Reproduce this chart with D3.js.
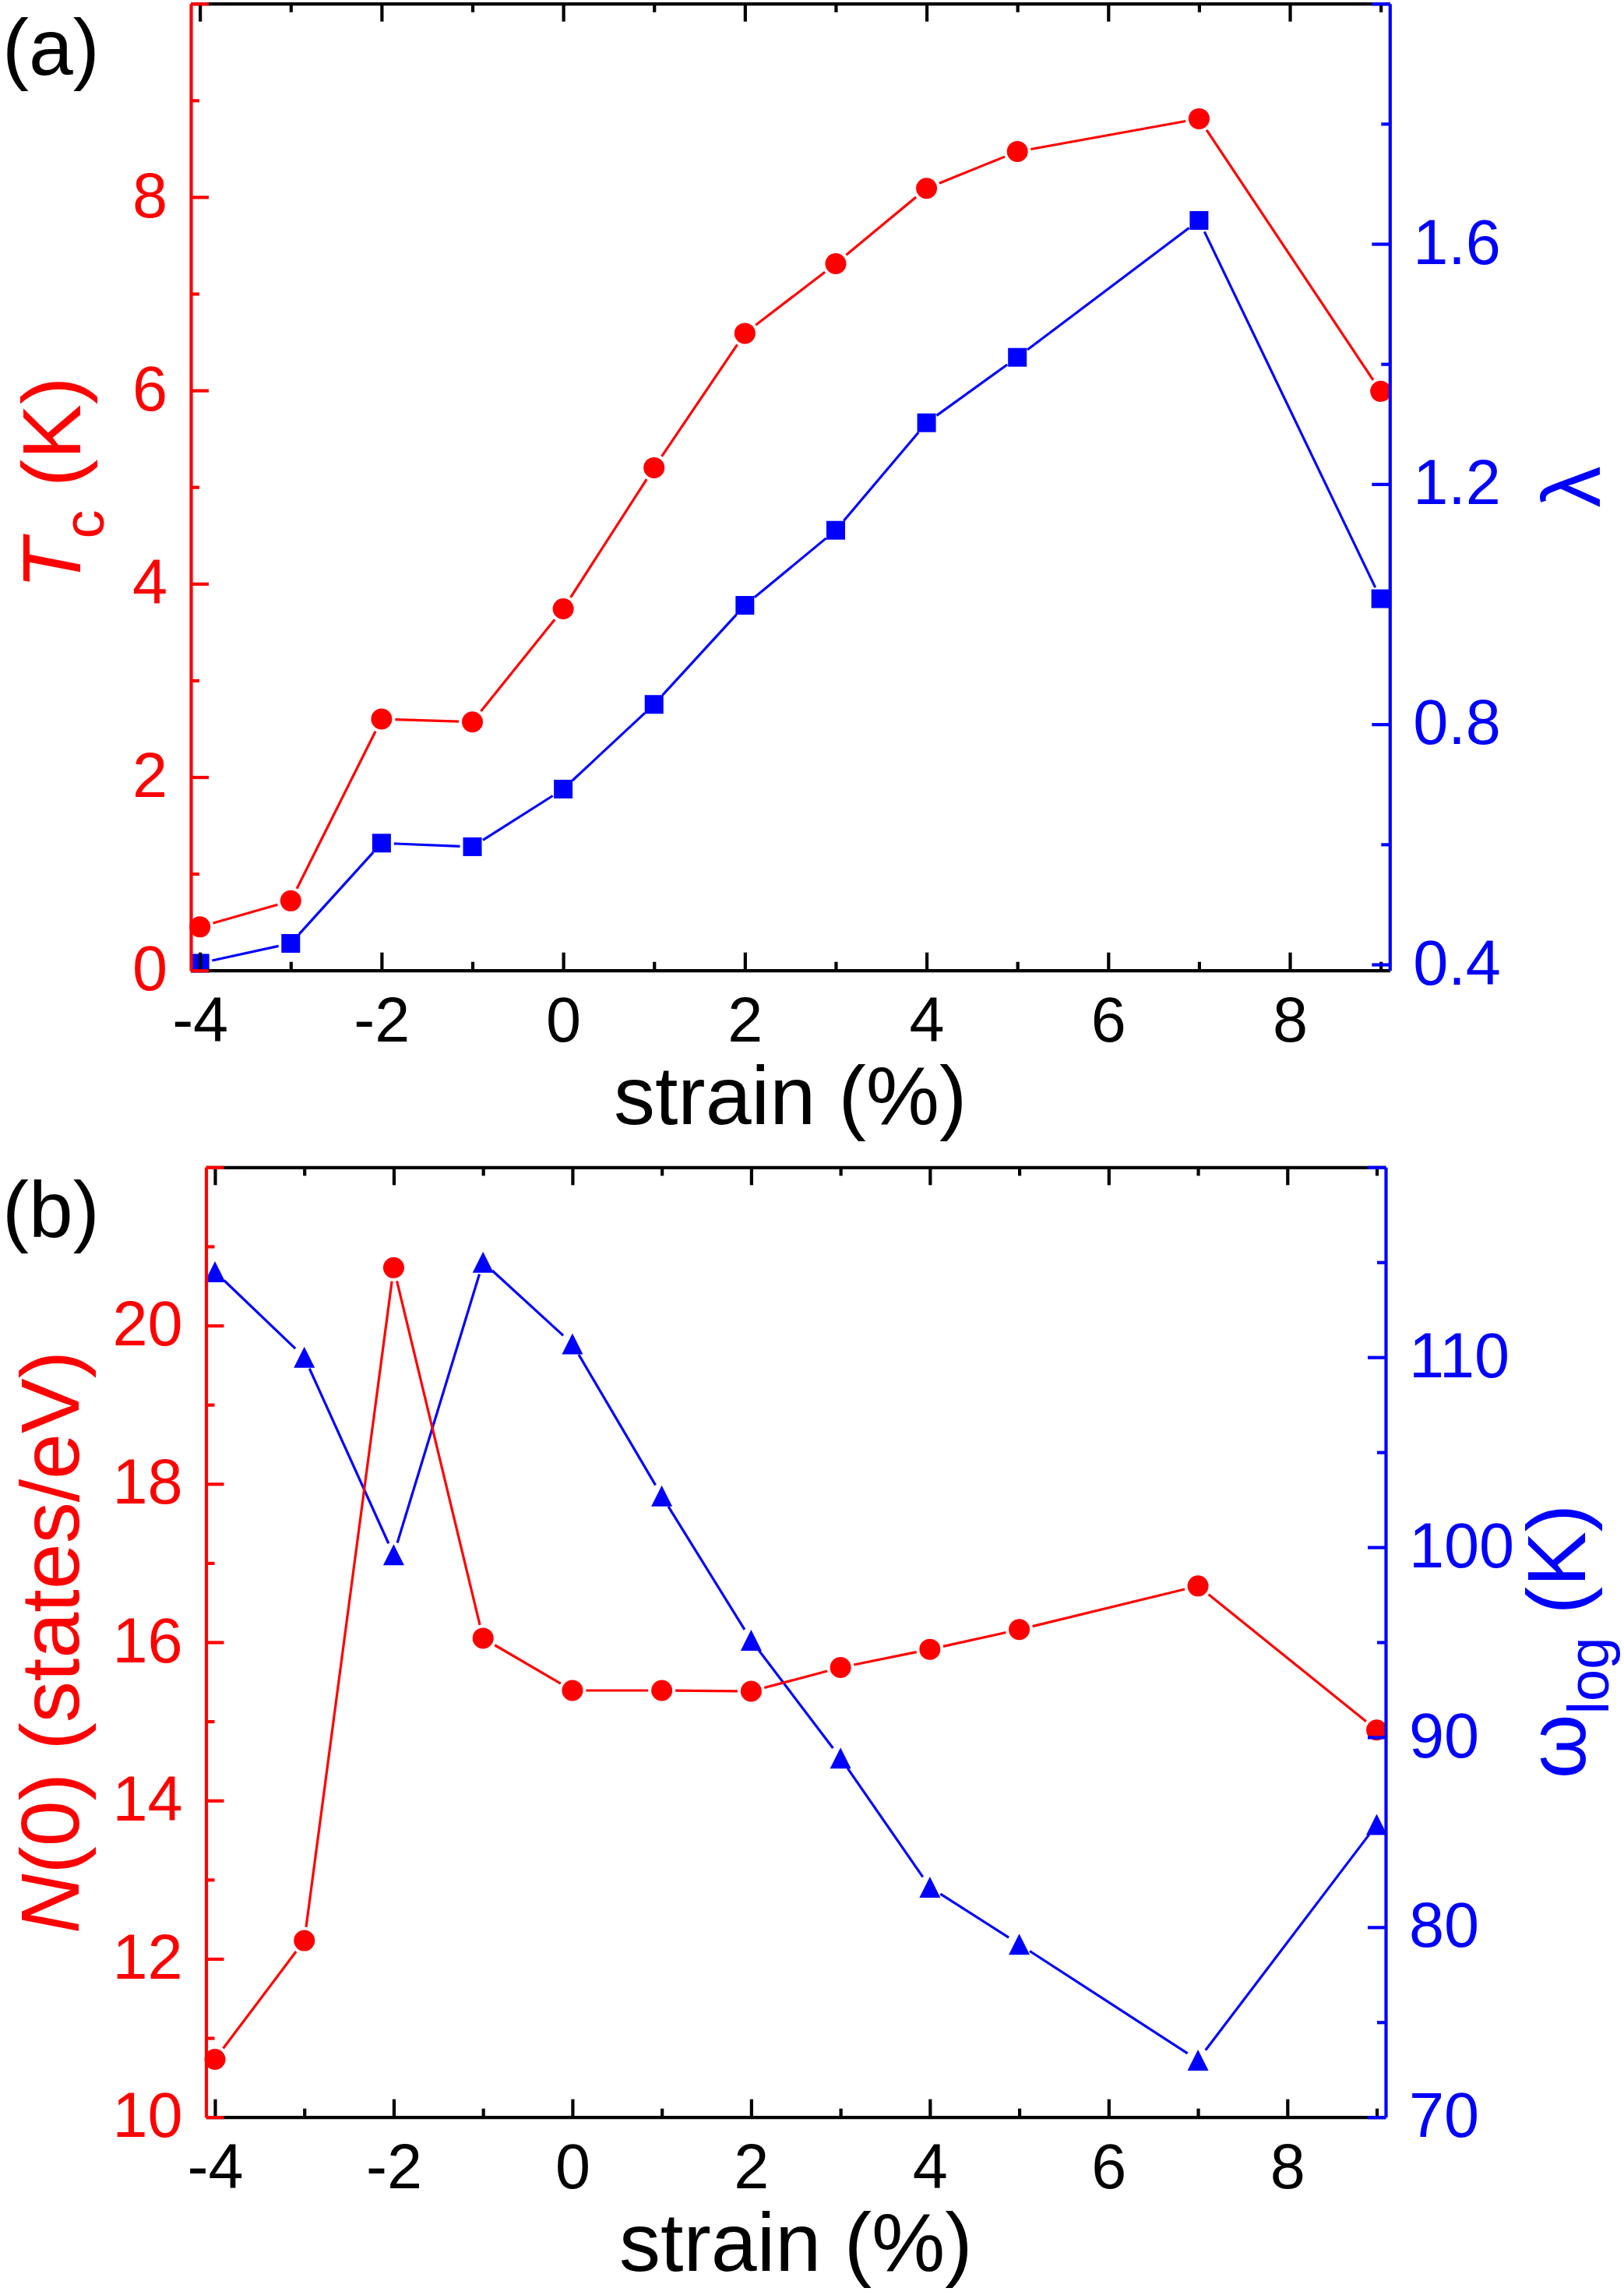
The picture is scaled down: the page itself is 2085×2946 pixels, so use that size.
<!DOCTYPE html>
<html>
<head>
<meta charset="utf-8">
<script src="https://cdn.jsdelivr.net/npm/d3@7"></script>
<style>
  html, body { margin: 0; padding: 0; background: #fff; }
  svg { display: block; }
  text { font-family: "Liberation Sans", Arial, sans-serif; }
</style>
</head>
<body>
<script>
// ---------- data ----------
const strain = [-4, -3, -2, -1, 0, 1, 2, 3, 4, 5, 7, 9];
const Tc     = [0.45, 0.72, 2.60, 2.57, 3.74, 5.20, 6.59, 7.31, 8.09, 8.47, 8.81, 5.99];
const lambda = [0.402, 0.435, 0.602, 0.596, 0.692, 0.833, 0.998, 1.123, 1.302, 1.411, 1.639, 1.009];
const N0     = [10.73, 12.23, 20.73, 16.05, 15.39, 15.39, 15.38, 15.68, 15.91, 16.16, 16.71, 14.89];
const wlog   = [114.5, 110.0, 99.6, 115.0, 110.7, 102.7, 95.1, 88.9, 82.1, 79.1, 73.0, 85.4];

const xTicksMajor = [-4, -2, 0, 2, 4, 6, 8];
const xTicksMinor = [-3, -1, 1, 3, 5, 7, 9];
const tcTicksMajor = [0, 2, 4, 6, 8, 10];
const tcTicksMinor = [1, 3, 5, 7, 9];
const lamTicksMajor = [0.4, 0.8, 1.2, 1.6, 2.0];
const lamTicksMinor = [0.6, 1.0, 1.4, 1.8];
const nTicksMajor = [10, 12, 14, 16, 18, 20, 22];
const nTicksMinor = [11, 13, 15, 17, 19, 21];
const wTicksMajor = [70, 80, 90, 100, 110, 120];
const wTicksMinor = [75, 85, 95, 105, 115];

const RED = "#ff0000", BLUE = "#0000ff", BLACK = "#000000";
const W = 2085, H = 2946;
const TICK_FS = 81, TITLE_FS = 106;

const svg = d3.select("body").append("svg").attr("width", W).attr("height", H);

// ---------- scales ----------
const xA = d3.scaleLinear().domain([-4.1, 9.1]).range([245, 1784.3]);
const yTc = d3.scaleLinear().domain([0, 10]).range([1245.7, 4.7]);
const yLam = d3.scaleLinear().domain([0.39, 2.0]).range([1245.7, 4.7]);

const xB = d3.scaleLinear().domain([-4.1, 9.1]).range([264.5, 1779]);
const yN = d3.scaleLinear().domain([10, 22]).range([2717.7, 1498.3]);
const yW = d3.scaleLinear().domain([70, 120]).range([2717.7, 1498.3]);

// ---------- helpers ----------
function drawSeries(g, xs, ys, xScale, yScale, color, marker, gap) {
  const pts = xs.map((x, i) => [xScale(x), yScale(ys[i])]);
  const segs = d3.pairs(pts).map(([a, b]) => {
    const dx = b[0] - a[0], dy = b[1] - a[1];
    const L = Math.hypot(dx, dy);
    const ux = dx / L, uy = dy / L;
    return [a[0] + ux * gap, a[1] + uy * gap, b[0] - ux * gap, b[1] - uy * gap, L];
  }).filter(s => s[4] > 2 * gap);
  g.selectAll(null).data(segs).enter().append("line")
    .attr("x1", d => d[0]).attr("y1", d => d[1])
    .attr("x2", d => d[2]).attr("y2", d => d[3])
    .attr("stroke", color).attr("stroke-width", 3.2).attr("stroke-linecap", "butt");
  const sel = g.selectAll(null).data(pts).enter();
  if (marker === "circle") {
    sel.append("circle").attr("cx", d => d[0]).attr("cy", d => d[1]).attr("r", 13.5).attr("fill", color);
  } else if (marker === "square") {
    sel.append("rect").attr("x", d => d[0] - 12).attr("y", d => d[1] - 12)
      .attr("width", 24).attr("height", 24).attr("fill", color);
  } else {
    const tri = { draw(ctx) { ctx.moveTo(0, -13.5); ctx.lineTo(13.5, 13.5); ctx.lineTo(-13.5, 13.5); ctx.closePath(); } };
    sel.append("path").attr("d", d3.symbol().type(tri)())
      .attr("transform", d => `translate(${d[0]},${d[1]})`).attr("fill", color);
  }
}

function styleAxis(sel, color) {
  sel.select(".domain").attr("stroke", color).attr("stroke-width", 4.2);
  sel.selectAll(".tick line").attr("stroke", color).attr("stroke-width", 4.2);
  sel.selectAll(".tick text").attr("fill", color).attr("font-size", TICK_FS)
     .attr("font-family", '"Liberation Sans", Arial, sans-serif');
}

function drawAxes(xScale, yL, yR, yLMaj, yLMin, yRMaj, yRMin, colL, colR, hideL, hideR) {
  const [x0, x1] = xScale.range();
  const [yb, yt] = yL.range();
  const fmt = d => String(+d.toFixed(2));
  // bottom
  const gb = svg.append("g").attr("transform", `translate(0,${yb})`)
    .call(d3.axisBottom(xScale).tickValues(xTicksMajor).tickSizeInner(-23).tickSizeOuter(0)
      .tickPadding(33.5).tickFormat(d => String(d)));
  styleAxis(gb, BLACK);
  const gbm = svg.append("g").attr("transform", `translate(0,${yb})`)
    .call(d3.axisBottom(xScale).tickValues(xTicksMinor).tickSizeInner(-11).tickSizeOuter(0).tickFormat(""));
  styleAxis(gbm, BLACK); gbm.select(".domain").remove();
  // top
  const gt = svg.append("g").attr("transform", `translate(0,${yt})`)
    .call(d3.axisTop(xScale).tickValues(xTicksMajor).tickSizeInner(-23).tickSizeOuter(0).tickFormat(""));
  styleAxis(gt, BLACK);
  const gtm = svg.append("g").attr("transform", `translate(0,${yt})`)
    .call(d3.axisTop(xScale).tickValues(xTicksMinor).tickSizeInner(-11).tickSizeOuter(0).tickFormat(""));
  styleAxis(gtm, BLACK); gtm.select(".domain").remove();
  // left
  const gl = svg.append("g").attr("transform", `translate(${x0},0)`)
    .call(d3.axisLeft(yL).tickValues(yLMaj).tickSizeInner(-23).tickSizeOuter(0).tickPadding(30)
      .tickFormat(d => d === hideL ? "" : fmt(d)));
  styleAxis(gl, colL);
  const glm = svg.append("g").attr("transform", `translate(${x0},0)`)
    .call(d3.axisLeft(yL).tickValues(yLMin).tickSizeInner(-11).tickSizeOuter(0).tickFormat(""));
  styleAxis(glm, colL); glm.select(".domain").remove();
  // right
  const gr = svg.append("g").attr("transform", `translate(${x1},0)`)
    .call(d3.axisRight(yR).tickValues(yRMaj).tickSizeInner(-23).tickSizeOuter(0).tickPadding(30)
      .tickFormat(d => d === hideR ? "" : (yR === yLam ? d.toFixed(1) : String(d))));
  styleAxis(gr, colR);
  const grm = svg.append("g").attr("transform", `translate(${x1},0)`)
    .call(d3.axisRight(yR).tickValues(yRMin).tickSizeInner(-11).tickSizeOuter(0).tickFormat(""));
  styleAxis(grm, colR); grm.select(".domain").remove();
  [gl, gr].forEach(g => g.selectAll(".tick text").attr("dy", "0.31em"));
}

function rotLabel(x, y, parts, color) {
  const t = svg.append("text").attr("transform", `translate(${x},${y}) rotate(-90)`)
    .attr("text-anchor", "middle").attr("fill", color).attr("font-size", TITLE_FS);
  parts.forEach(p => {
    const s = t.append("tspan").text(p.t);
    if (p.italic) s.attr("font-style", "italic");
    if (p.sub) s.attr("font-size", 74).attr("dy", 30);
    if (p.unsub) s.attr("dy", -30);
  });
  return t;
}

// ---------- panel (a) ----------
const ga = svg.append("g");
drawSeries(ga, strain, lambda, xA, yLam, BLUE, "square", 16);
drawSeries(ga, strain, Tc, xA, yTc, RED, "circle", 17.5);
drawAxes(xA, yTc, yLam, tcTicksMajor, tcTicksMinor, lamTicksMajor, lamTicksMinor, RED, BLUE, 10, 2.0);

// ---------- panel (b) ----------
const gbp = svg.append("g");
drawSeries(gbp, strain, wlog, xB, yW, BLUE, "triangle", 16);
drawSeries(gbp, strain, N0, xB, yN, RED, "circle", 17.5);
drawAxes(xB, yN, yW, nTicksMajor, nTicksMinor, wTicksMajor, wTicksMinor, RED, BLUE, 22, 120);

// ---------- titles ----------
svg.append("text").attr("x", 3).attr("y", 96).attr("font-size", 102).attr("fill", BLACK).text("(a)");
svg.append("text").attr("x", 3).attr("y", 1588).attr("font-size", 102).attr("fill", BLACK).text("(b)");

svg.append("text").attr("x", (xA.range()[0] + xA.range()[1]) / 2).attr("y", 1443)
  .attr("text-anchor", "middle").attr("font-size", TITLE_FS).attr("fill", BLACK).text("strain (%)");
svg.append("text").attr("x", (xB.range()[0] + xB.range()[1]) / 2).attr("y", 2915)
  .attr("text-anchor", "middle").attr("font-size", TITLE_FS).attr("fill", BLACK).text("strain (%)");

rotLabel(103, 620, [{ t: "T", italic: true }, { t: "c", sub: true }, { t: " (K)", unsub: true }], RED);
rotLabel(2054, 625, [{ t: "λ" }], BLUE);
rotLabel(101, 2108, [{ t: "N", italic: true }, { t: "(0) (states/eV)" }], RED);
rotLabel(2035, 2107, [{ t: "ω" }, { t: "log", sub: true }, { t: " (K)", unsub: true }], BLUE);
</script>
</body>
</html>
